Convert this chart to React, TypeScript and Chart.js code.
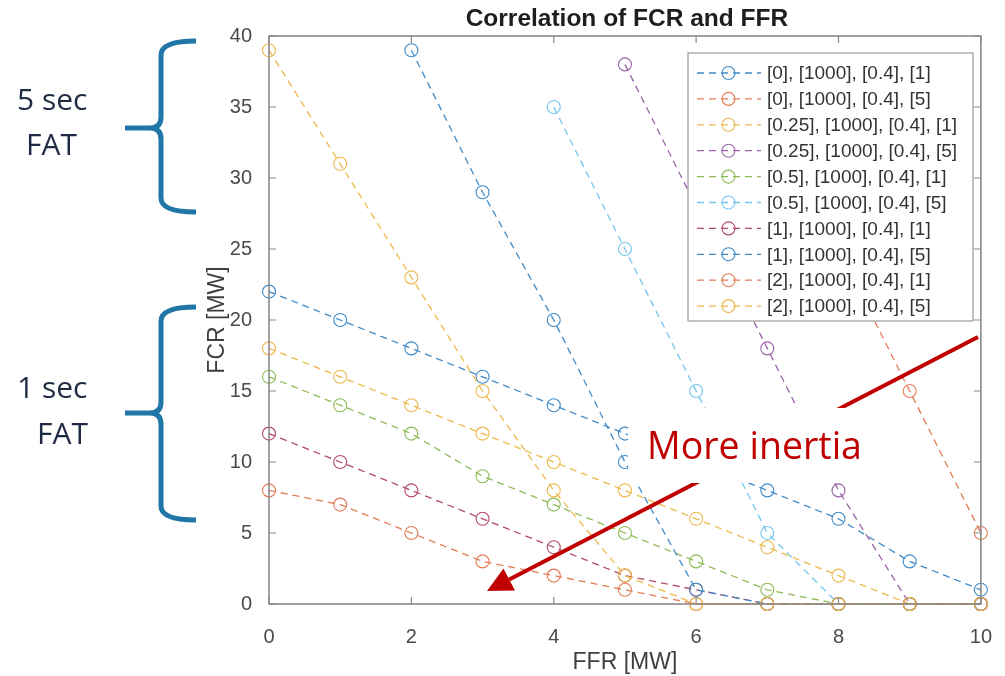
import React, { useEffect, useRef } from 'react';
import { Chart, registerables } from 'chart.js';

Chart.register(...registerables);

// ---- data ----
const ffr = [0, 1, 2, 3, 4, 5, 6, 7, 8, 9, 10];

const seriesLabels = [
  '[0], [1000], [0.4], [1]',
  '[0], [1000], [0.4], [5]',
  '[0.25], [1000], [0.4], [1]',
  '[0.25], [1000], [0.4], [5]',
  '[0.5], [1000], [0.4], [1]',
  '[0.5], [1000], [0.4], [5]',
  '[1], [1000], [0.4], [1]',
  '[1], [1000], [0.4], [5]',
  '[2], [1000], [0.4], [1]',
  '[2], [1000], [0.4], [5]',
];

const fcrH0Fat1 = [22, 20, 18, 16, 14, 12, 10, 8, 6, 3, 1];
const fcrH0Fat5 = [null, null, null, null, null, null, null, 35, 25, 15, 5];
const fcrH025Fat1 = [18, 16, 14, 12, 10, 8, 6, 4, 2, 0, 0];
const fcrH025Fat5 = [null, null, null, null, null, 38, 28, 18, 8, 0, 0];
const fcrH05Fat1 = [16, 14, 12, 9, 7, 5, 3, 1, 0, 0, 0];
const fcrH05Fat5 = [null, null, null, null, 35, 25, 15, 5, 0, 0, 0];
const fcrH1Fat1 = [12, 10, 8, 6, 4, 2, 1, 0, 0, 0, 0];
const fcrH1Fat5 = [null, null, 39, 29, 20, 10, 1, 0, 0, 0, 0];
const fcrH2Fat1 = [8, 7, 5, 3, 2, 1, 0, 0, 0, 0, 0];
const fcrH2Fat5 = [39, 31, 23, 15, 8, 2, 0, 0, 0, 0, 0];

const seriesValues = [
  fcrH0Fat1, fcrH0Fat5, fcrH025Fat1, fcrH025Fat5, fcrH05Fat1,
  fcrH05Fat5, fcrH1Fat1, fcrH1Fat5, fcrH2Fat1, fcrH2Fat5,
];

const seriesColors = [
  '#3f8bc9', '#e27c55', '#edb94c', '#9a64a8', '#8cbc55',
  '#74c7ee', '#b34c66', '#3f8bc9', '#e27c55', '#edb94c',
];

const xTickValues = [0, 2, 4, 6, 8, 10];
const yTickValues = [0, 5, 10, 15, 20, 25, 30, 35, 40];

const chartTitle = 'Correlation of FCR and FFR';
const xTitle = 'FFR [MW]';
const yTitle = 'FCR [MW]';
const noteText = 'More inertia';
const braceTexts = [
  { lines: ['5 sec', 'FAT'], xs: [17, 26], ys: [110, 155] },
  { lines: ['1 sec', 'FAT'], xs: [17, 37], ys: [398, 444] },
];

const AXIS_FONT = '"Liberation Sans", Arial, Helvetica, sans-serif';
const NOTE_FONT = '"Open Sans", "Noto Sans", sans-serif';

const decorPlugin = {
  id: 'decor',
  afterDraw(chart: any) {
    const { ctx, chartArea: a, scales } = chart;
    const xs = scales.x;
    const ys = scales.y;
    ctx.save();

    // axes box
    ctx.strokeStyle = '#8a8a8a';
    ctx.lineWidth = 1.6;
    ctx.setLineDash([]);
    ctx.strokeRect(a.left, a.top, a.right - a.left, a.bottom - a.top);

    // inside ticks on all four sides
    ctx.lineWidth = 1.2;
    const tl = 7;
    ctx.beginPath();
    xTickValues.forEach((v) => {
      const px = xs.getPixelForValue(v);
      ctx.moveTo(px, a.bottom);
      ctx.lineTo(px, a.bottom - tl);
      ctx.moveTo(px, a.top);
      ctx.lineTo(px, a.top + tl);
    });
    yTickValues.forEach((v) => {
      const py = ys.getPixelForValue(v);
      ctx.moveTo(a.left, py);
      ctx.lineTo(a.left + tl, py);
      ctx.moveTo(a.right, py);
      ctx.lineTo(a.right - tl, py);
    });
    ctx.stroke();

    // title
    ctx.fillStyle = '#1e1e1e';
    ctx.font = 'bold 24.5px ' + AXIS_FONT;
    ctx.textAlign = 'center';
    ctx.textBaseline = 'middle';
    ctx.fillText(chartTitle, (a.left + a.right) / 2 + 2, 19);

    // legend (MATLAB style, inside axes, top-right)
    const lg = { left: 688, top: 53, right: 973, bottom: 321 };
    ctx.fillStyle = '#ffffff';
    ctx.fillRect(lg.left, lg.top, lg.right - lg.left, lg.bottom - lg.top);
    ctx.strokeStyle = '#9a9a9a';
    ctx.lineWidth = 1.2;
    ctx.strokeRect(lg.left, lg.top, lg.right - lg.left, lg.bottom - lg.top);
    chart.data.datasets.forEach((ds: any, i: number) => {
      const cy = 73 + i * 25.9;
      ctx.strokeStyle = ds.borderColor;
      ctx.lineWidth = 1.3;
      ctx.setLineDash([7, 5]);
      ctx.beginPath();
      ctx.moveTo(697, cy);
      ctx.lineTo(761, cy);
      ctx.stroke();
      ctx.setLineDash([]);
      ctx.lineWidth = 1.1;
      ctx.beginPath();
      ctx.arc(728.5, cy, 6.5, 0, Math.PI * 2);
      ctx.stroke();
      ctx.fillStyle = '#333333';
      ctx.font = '19px ' + AXIS_FONT;
      ctx.textAlign = 'left';
      ctx.textBaseline = 'middle';
      ctx.fillText(ds.label, 767, cy + 1);
    });

    // braces on the left
    const drawBrace = (top: number, mid: number, bottom: number) => {
      const vx = 161, rx = 196, tx = 125;
      ctx.strokeStyle = '#2176a8';
      ctx.lineWidth = 5;
      ctx.lineJoin = 'round';
      ctx.lineCap = 'butt';
      ctx.beginPath();
      ctx.moveTo(rx, top);
      ctx.quadraticCurveTo(vx, top, vx, top + 14);
      ctx.lineTo(vx, mid - 11);
      ctx.quadraticCurveTo(vx, mid, vx - 11, mid);
      ctx.lineTo(tx, mid);
      ctx.moveTo(vx - 11, mid);
      ctx.quadraticCurveTo(vx, mid, vx, mid + 11);
      ctx.lineTo(vx, bottom - 14);
      ctx.quadraticCurveTo(vx, bottom, rx, bottom);
      ctx.stroke();
    };
    drawBrace(41, 128, 212);
    drawBrace(307, 413, 520);

    ctx.fillStyle = '#1f2b44';
    ctx.font = '30px ' + NOTE_FONT;
    ctx.textAlign = 'left';
    ctx.textBaseline = 'alphabetic';
    braceTexts.forEach((b) => {
      b.lines.forEach((t, k) => ctx.fillText(t, b.xs[k], b.ys[k]));
    });

    // red arrow
    const sx = 978, sy = 337, tipX = 487, tipY = 591;
    const dx = tipX - sx, dy = tipY - sy;
    const len = Math.hypot(dx, dy);
    const ux = dx / len, uy = dy / len;
    const hl = 25, hw = 12.5;
    const bx = tipX - ux * hl, by = tipY - uy * hl;
    ctx.strokeStyle = '#c00000';
    ctx.fillStyle = '#c00000';
    ctx.lineWidth = 4;
    ctx.beginPath();
    ctx.moveTo(sx, sy);
    ctx.lineTo(bx, by);
    ctx.stroke();
    ctx.beginPath();
    ctx.moveTo(tipX, tipY);
    ctx.lineTo(bx - uy * hw, by + ux * hw);
    ctx.lineTo(bx + uy * hw, by - ux * hw);
    ctx.closePath();
    ctx.fill();

    // white note box with text
    ctx.fillStyle = '#ffffff';
    ctx.fillRect(628, 408, 249, 75);
    ctx.fillStyle = '#c00000';
    ctx.font = '37.5px ' + NOTE_FONT;
    ctx.textAlign = 'left';
    ctx.textBaseline = 'alphabetic';
    ctx.fillText(noteText, 647, 459);

    ctx.restore();
  },
};

export default function App() {
  const ref = useRef<HTMLCanvasElement>(null);

  useEffect(() => {
    document.body.style.margin = '0';
    const datasets = seriesValues.map((vals, i) => ({
      label: seriesLabels[i],
      data: ffr.map((x, j) => ({ x, y: vals[j] })),
      borderColor: seriesColors[i],
      pointBorderColor: seriesColors[i],
      pointBackgroundColor: 'rgba(0,0,0,0)',
      borderWidth: 1.3,
      borderDash: [7, 5],
      pointStyle: 'circle',
      pointRadius: 6.5,
      pointBorderWidth: 1.1,
      tension: 0,
      fill: false,
      spanGaps: false,
      clip: false,
      order: 10 - i,
    }));

    const chart = new Chart(ref.current as HTMLCanvasElement, {
      type: 'line',
      data: { datasets } as any,
      options: {
        animation: false,
        responsive: false,
        events: [],
        layout: { padding: { left: 204, right: 15, top: 36, bottom: 0 } },
        plugins: {
          legend: { display: false },
          title: { display: false },
          tooltip: { enabled: false },
        },
        scales: {
          x: {
            type: 'linear',
            min: 0,
            max: 10,
            grid: { display: false },
            border: { display: false },
            ticks: {
              stepSize: 2,
              padding: 13,
              color: '#4a4a4a',
              font: { family: AXIS_FONT, size: 20 },
            },
            title: {
              display: true,
              text: xTitle,
              color: '#404040',
              padding: 0,
              font: { family: AXIS_FONT, size: 23 },
            },
            afterFit: (s: any) => { s.height = 72; },
          },
          y: {
            type: 'linear',
            min: 0,
            max: 40,
            grid: { display: false },
            border: { display: false },
            ticks: {
              stepSize: 5,
              padding: 9,
              color: '#4a4a4a',
              font: { family: AXIS_FONT, size: 20 },
            },
            title: {
              display: true,
              text: yTitle,
              color: '#404040',
              padding: 0,
              font: { family: AXIS_FONT, size: 23 },
            },
            afterFit: (s: any) => { s.width = 65; },
          },
        },
      } as any,
      plugins: [decorPlugin],
    });
    return () => chart.destroy();
  }, []);

  return (
    <div style={{ position: 'fixed', left: 0, top: 0, width: 1005, height: 676, background: '#ffffff' }}>
      <canvas ref={ref} width={1005} height={676} />
    </div>
  );
}
